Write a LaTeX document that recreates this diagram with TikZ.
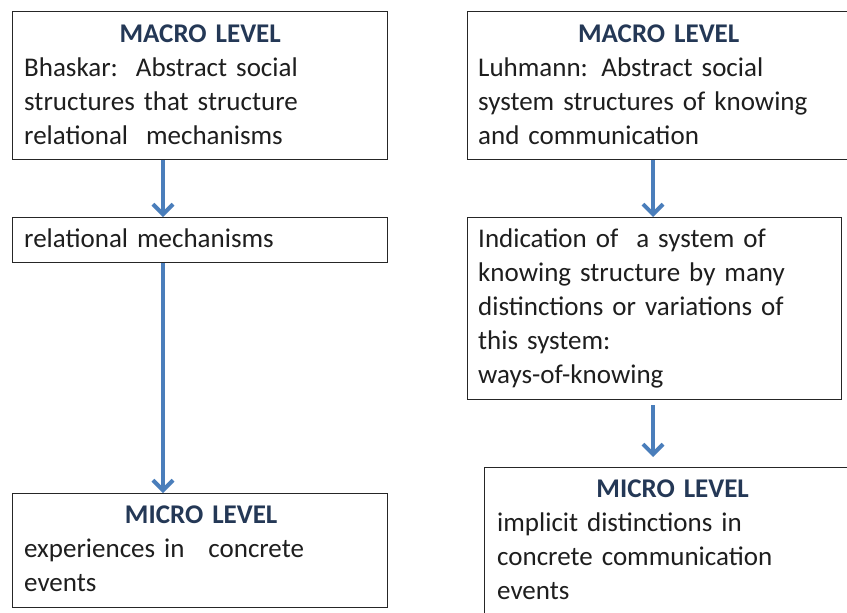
\documentclass[tikz,border=0pt]{standalone}
\usepackage{fontspec}
\setmainfont{Carlito}
\usetikzlibrary{arrows.meta,calc}
\definecolor{headblue}{RGB}{36,56,86}
\definecolor{arrowblue}{RGB}{74,126,187}
\definecolor{ink}{RGB}{30,30,30}
\begin{document}
\begin{tikzpicture}[x=1pt,y=-1pt,
  panel/.style={draw=black!85, line width=1.2pt, rectangle, inner sep=0pt, anchor=north west},
  body/.style={anchor=north west, inner sep=0pt, align=left, text=ink,
    font=\fontsize{27}{34}\selectfont},
  flow/.style={draw=arrowblue, line width=4pt, -{Straight Barb[length=10pt,width=20pt]}}
]
\clip (0,0) rectangle (847,613);
\fill[white] (0,0) rectangle (847,613);
\useasboundingbox (0,0) rectangle (847,613);
\newcommand{\heading}[1]{\rule{0pt}{24pt}\makebox[\hsize]{\bfseries\color{headblue}#1}}

% left column
\node[panel, minimum width=375pt, minimum height=148pt] (b1) at (12,11) {};
\node[body, text width=352pt] (t1) at (24,18)
  {\heading{MACRO LEVEL}\\ Bhaskar:\ \ Abstract social\\ structures that structure\\ relational\ \ mechanisms};

\node[panel, minimum width=375pt, minimum height=45pt] (b3) at (12,217) {};
\node[body, text width=352pt] (t3) at (24,223)
  {\rule{0pt}{24pt}relational mechanisms};

\node[panel, minimum width=375pt, minimum height=114pt] (b4) at (12,493) {};
\node[body, text width=354pt] (t4) at (24,499)
  {\heading{MICRO LEVEL}\\ experiences in\hspace{0.55em} concrete\\ events};

% right column
\node[panel, minimum width=420pt, minimum height=148pt] (b2) at (467,11) {};
\node[body, text width=361pt] (t2) at (478,18)
  {\heading{MACRO LEVEL}\\ Luhmann: Abstract social\\ system structures of knowing\\ and communication};

\node[panel, minimum width=374pt, minimum height=182pt] (b5) at (467,217) {};
\node[body, text width=361pt] (t5) at (478,223)
  {\rule{0pt}{24pt}Indication of\ \ a system of\\ knowing structure by many\\ distinctions or variations of\\ this system:\\ ways-of-knowing};

\node[panel, minimum width=420pt, minimum height=200pt] (b6) at (484,467) {};
\node[body, text width=351pt] (t6) at (497,473)
  {\heading{MICRO LEVEL}\\ implicit distinctions in\\ concrete communication\\ events};

% connectors
\coordinate (xl) at (163,0);
\coordinate (xr) at (653,0);
\draw[flow] (b1.south -| xl) -- (b3.north -| xl);
\draw[flow] (b3.south -| xl) -- (b4.north -| xl);
\draw[flow] (b2.south -| xr) -- (b5.north -| xr);
\draw[flow, shorten <=5pt, shorten >=10pt] (b5.south -| xr) -- (b6.north -| xr);
\end{tikzpicture}
\end{document}
